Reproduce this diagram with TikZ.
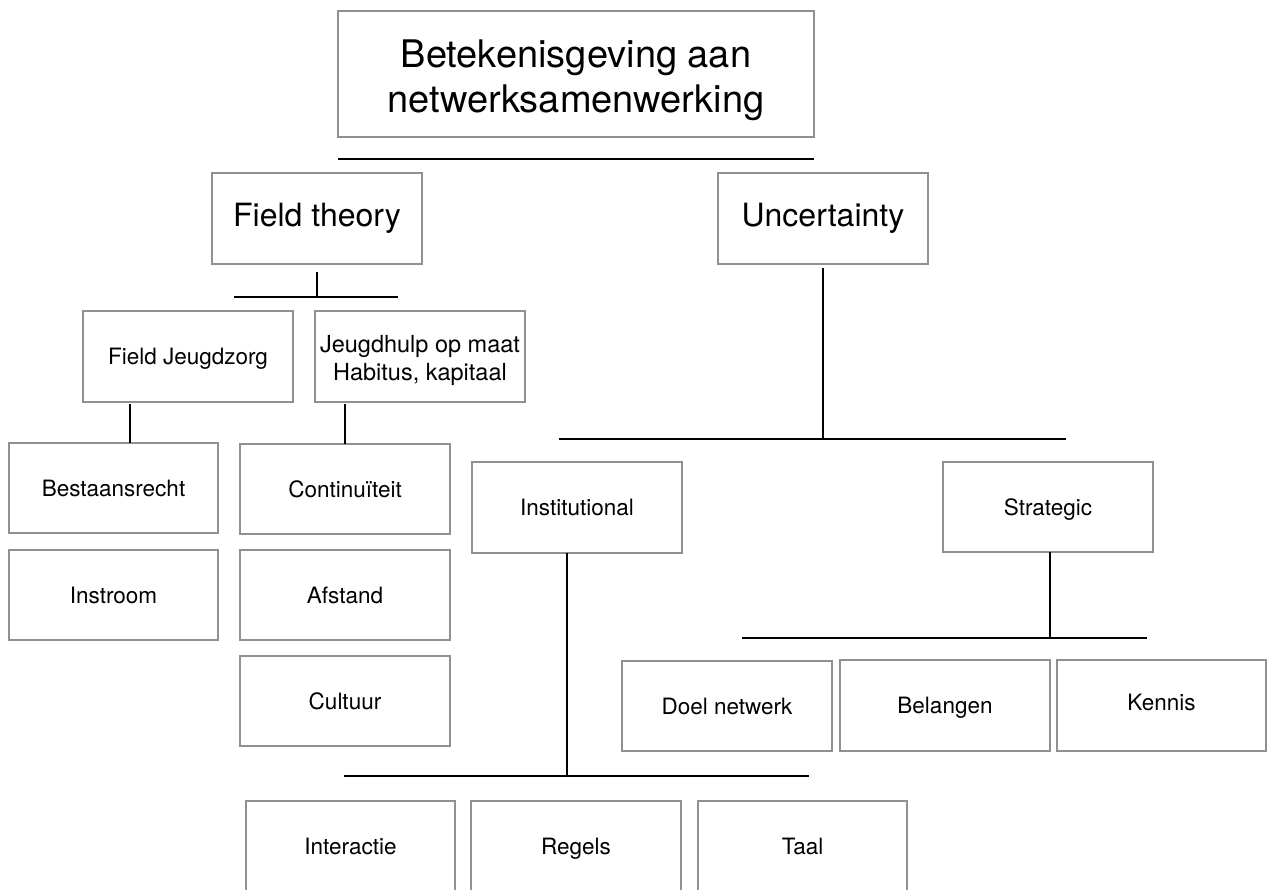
\documentclass[tikz,border=0pt]{standalone}
\usepackage{fontspec}
\setmainfont{TeX Gyre Heros}
\begin{document}
\begin{tikzpicture}[x=1pt,y=-1pt,
  box/.style={draw=boxgray, line width=1.8pt, fill=white, inner sep=0pt, outer sep=0pt, align=center},
  bigbox/.style={box, font=\fontsize{38}{45}\selectfont},
  midbox/.style={box, font=\fontsize{32}{38}\selectfont},
  smallbox/.style={box, minimum width=210pt, minimum height=90pt, font=\fontsize{22.5}{27}\selectfont,
    text height=16pt, text depth=0pt},
  twolinebox/.style={box, minimum width=210pt, minimum height=91pt, font=\fontsize{23.5}{28}\selectfont},
  bar/.style={line width=2.6pt, line cap=butt},
  stem/.style={line width=2pt}]
\definecolor{boxgray}{RGB}{143,143,148}
\useasboundingbox (0,0) rectangle (1268,889);

% title
\node[bigbox, minimum width=476pt, minimum height=126pt] (top) at (576,74)
  {\raisebox{-7pt}[\height][\depth]{\begin{tabular}{@{}c@{}}Betekenisgeving aan\\netwerksamenwerking\end{tabular}}};
\coordinate (topbarL) at (338,159);
\coordinate (topbarR) at (814,159);
\draw[bar] (topbarL) -- (topbarR);

% two theories
\node[midbox, minimum width=210pt, minimum height=91pt] (field) at (317,218.5) {Field theory};
\node[midbox, minimum width=210pt, minimum height=91pt] (unc) at (823,218.5) {Uncertainty};

% field theory branch
\coordinate (fieldJ) at (317,297);
\coordinate (fieldbarL) at (234,297);
\coordinate (fieldbarR) at (398,297);
\draw[stem] ([yshift=-8pt]field.south) -- (fieldJ);
\draw[bar] (fieldbarL) -- (fieldbarR);

\node[smallbox, minimum width=210pt, minimum height=91pt] (fj) at (188,356.5) {Field Jeugdzorg};
\node[twolinebox] (jh) at (420,356.5)
  {\raisebox{-4pt}[\height][\depth]{\begin{tabular}{@{}c@{}}Jeugdhulp op maat\\Habitus, kapitaal\end{tabular}}};

\node[smallbox, minimum width=209pt] (best) at (113.5,488) {Bestaansrecht};
\node[smallbox, minimum width=209pt] (instr) at (113.5,595) {Instroom};
\node[smallbox] (cont) at (345,489) {Continuïteit};
\node[smallbox] (afst) at (345,595) {Afstand};
\node[smallbox] (cult) at (345,701) {Cultuur};

\coordinate (fjS) at (130,404);
\coordinate (jhS) at (345,404);
\draw[stem] (fjS) -- (fjS |- best.north);
\draw[stem] (jhS) -- (jhS |- cont.north);

% uncertainty branch
\coordinate (uncJ) at (823,439);
\coordinate (uncbarL) at (559,439);
\coordinate (uncbarR) at (1066,439);
\draw[stem] ([yshift=-4pt]unc.south) -- (uncJ);
\draw[bar] (uncbarL) -- (uncbarR);

\node[smallbox, minimum height=91pt] (inst) at (577,507.5) {Institutional};
\node[smallbox] (strat) at (1048,507) {Strategic};

% institutional uncertainty
\coordinate (instJ) at (567,776);
\coordinate (instbarL) at (344,776);
\coordinate (instbarR) at (809,776);
\draw[stem] (inst.south -| instJ) -- (instJ);
\draw[bar] (instbarL) -- (instbarR);

\node[smallbox, minimum width=209pt] (inter) at (350.5,846) {Interactie};
\node[smallbox] (regels) at (576,846) {Regels};
\node[smallbox, minimum width=209pt] (taal) at (802.5,846) {Taal};

% strategic uncertainty
\coordinate (stratJ) at (1050,638);
\coordinate (stratbarL) at (742,638);
\coordinate (stratbarR) at (1147,638);
\draw[stem] (strat.south -| stratJ) -- (stratJ);
\draw[bar] (stratbarL) -- (stratbarR);

\node[smallbox] (doel) at (727,706) {Doel netwerk};
\node[smallbox, minimum height=91pt] (bel) at (945,705.5) {Belangen};
\node[smallbox, minimum width=209pt, minimum height=91pt] (ken) at (1161.5,705.5) {\raisebox{3pt}{Kennis}};
\end{tikzpicture}
\end{document}
